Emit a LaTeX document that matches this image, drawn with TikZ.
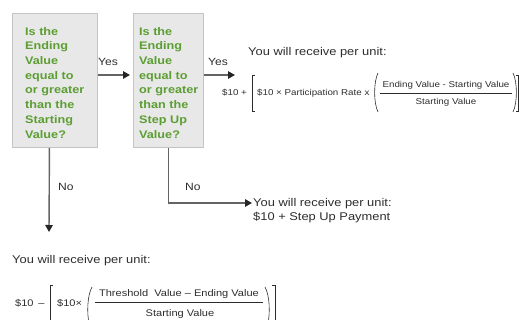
\documentclass[tikz,border=0pt]{standalone}
\usepackage{fontspec}
\setmainfont{Liberation Sans}[FakeStretch=1.15]
\usetikzlibrary{arrows.meta}
\definecolor{qgreen}{RGB}{92,158,50}
\definecolor{boxfill}{RGB}{232,232,232}
\definecolor{boxline}{RGB}{196,196,196}
\definecolor{txt}{RGB}{45,45,45}
\definecolor{conn}{RGB}{100,100,100}
\tikzset{
  qbox/.style={draw=boxline, fill=boxfill, line width=0.9pt, inner sep=0pt, anchor=north west},
  qtext/.style={text=qgreen, font=\fontsize{11}{14.7}\selectfont\bfseries, align=left, inner sep=0pt, anchor=north west},
  lbl/.style={text=txt, font=\fontsize{10.5}{12}\selectfont, inner sep=0pt, anchor=base west},
  rec/.style={text=txt, font=\fontsize{11.2}{13}\selectfont, inner sep=0pt, anchor=base west},
  fml/.style={text=txt, font=\fontsize{8.5}{10}\selectfont, inner sep=0pt},
  fmlb/.style={text=txt, font=\fontsize{9.6}{11}\selectfont, inner sep=0pt},
  brk/.style={draw=txt, line width=0.6pt},
  conn/.style={draw=conn, line width=1.4pt, -{Triangle[length=7pt,width=7.5pt,color=black!85]}},
}
\begin{document}
\begin{tikzpicture}[x=1pt,y=-1pt]
\useasboundingbox (0,0) rectangle (519,320);
% question boxes
\node[qbox, minimum width=85pt, minimum height=134pt] (q1) at (12,13) {};
\node[qbox, minimum width=70pt, minimum height=134pt] (q2) at (133,13) {};
\node[qtext] (t1) at (25,27) {Is the\\Ending\\Value\\equal to\\or greater\\than the\\Starting\\Value?};
\node[qtext] (t2) at (139,27) {Is the\\Ending\\Value\\equal to\\or greater\\than the\\Step Up\\Value?};
% Yes arrows
\draw[conn, shorten >=3pt] (q1.east |- 0,75) -- (q2.west |- 0,75);
\node[lbl] (y1) at (98,65.6) {Yes};
\node[rec] (r1) at (248,56) {You will receive per unit:};
\coordinate (a2) at (235,75);
\draw[conn] (q2.east |- a2) -- (a2);
\node[lbl] (y2) at (208,65.6) {Yes};
% top formula
\node[fml, anchor=base west] (f1) at (222,96) {\$10 +};
\draw[brk] (255,75) -- (252,75) -- (252,111) -- (255,111);
\node[fml, anchor=base west] (f2) at (257,96) {\$10 × Participation Rate x};
\draw[brk] (378,73) .. controls (373.5,82) and (373.5,103) .. (378,112);
\node[fml, anchor=base] (f3) at (446,88) {Ending Value - Starting Value};
\draw[txt, line width=0.6pt] (380,93) -- (512,93);
\node[fml, anchor=base] (f4) at (446,105) {Starting Value};
\draw[brk] (513,73) .. controls (517.5,82) and (517.5,103) .. (513,112);
\draw[brk] (515.5,75) -- (518.3,75) -- (518.3,111) -- (515.5,111);
% No branch from box 2
\node[rec] (r2a) at (253,207) {You will receive per unit:};
\node[rec] (r2b) at (253,220.5) {\$10 + Step Up Payment};
\draw[conn] (q2.south) |- ([xshift=-1pt]r2a.west |- 0,203);
\node[lbl] (n2) at (185,190.5) {No};
% No branch from box 1
\coordinate (c3) at (49,232);
\draw[conn] ([xshift=-5.5pt]q1.south) -- (c3);
\node[lbl] (n1) at (58,190.5) {No};
\node[rec] (r3) at (12,263) {You will receive per unit:};
% bottom formula
\node[fmlb, anchor=base west] (g1) at (15,306.5) {\$10 \,–};
\draw[brk] (53,285) -- (50,285) -- (50,323);
\node[fmlb, anchor=base west] (g2) at (57,306.5) {\$10×};
\draw[brk] (92,287) .. controls (87,296) and (87,314) .. (89,323);
\node[fmlb, anchor=base] (g3) at (179,296.5) {Threshold\ \ Value – Ending Value};
\draw[txt, line width=0.6pt] (95,302) -- (263,302);
\node[fmlb, anchor=base] (g4) at (180,316) {Starting Value};
\draw[brk] (265,287) .. controls (270,296) and (270,314) .. (268,323);
\draw[brk] (272,285) -- (275,285) -- (275,323);
\end{tikzpicture}
\end{document}
